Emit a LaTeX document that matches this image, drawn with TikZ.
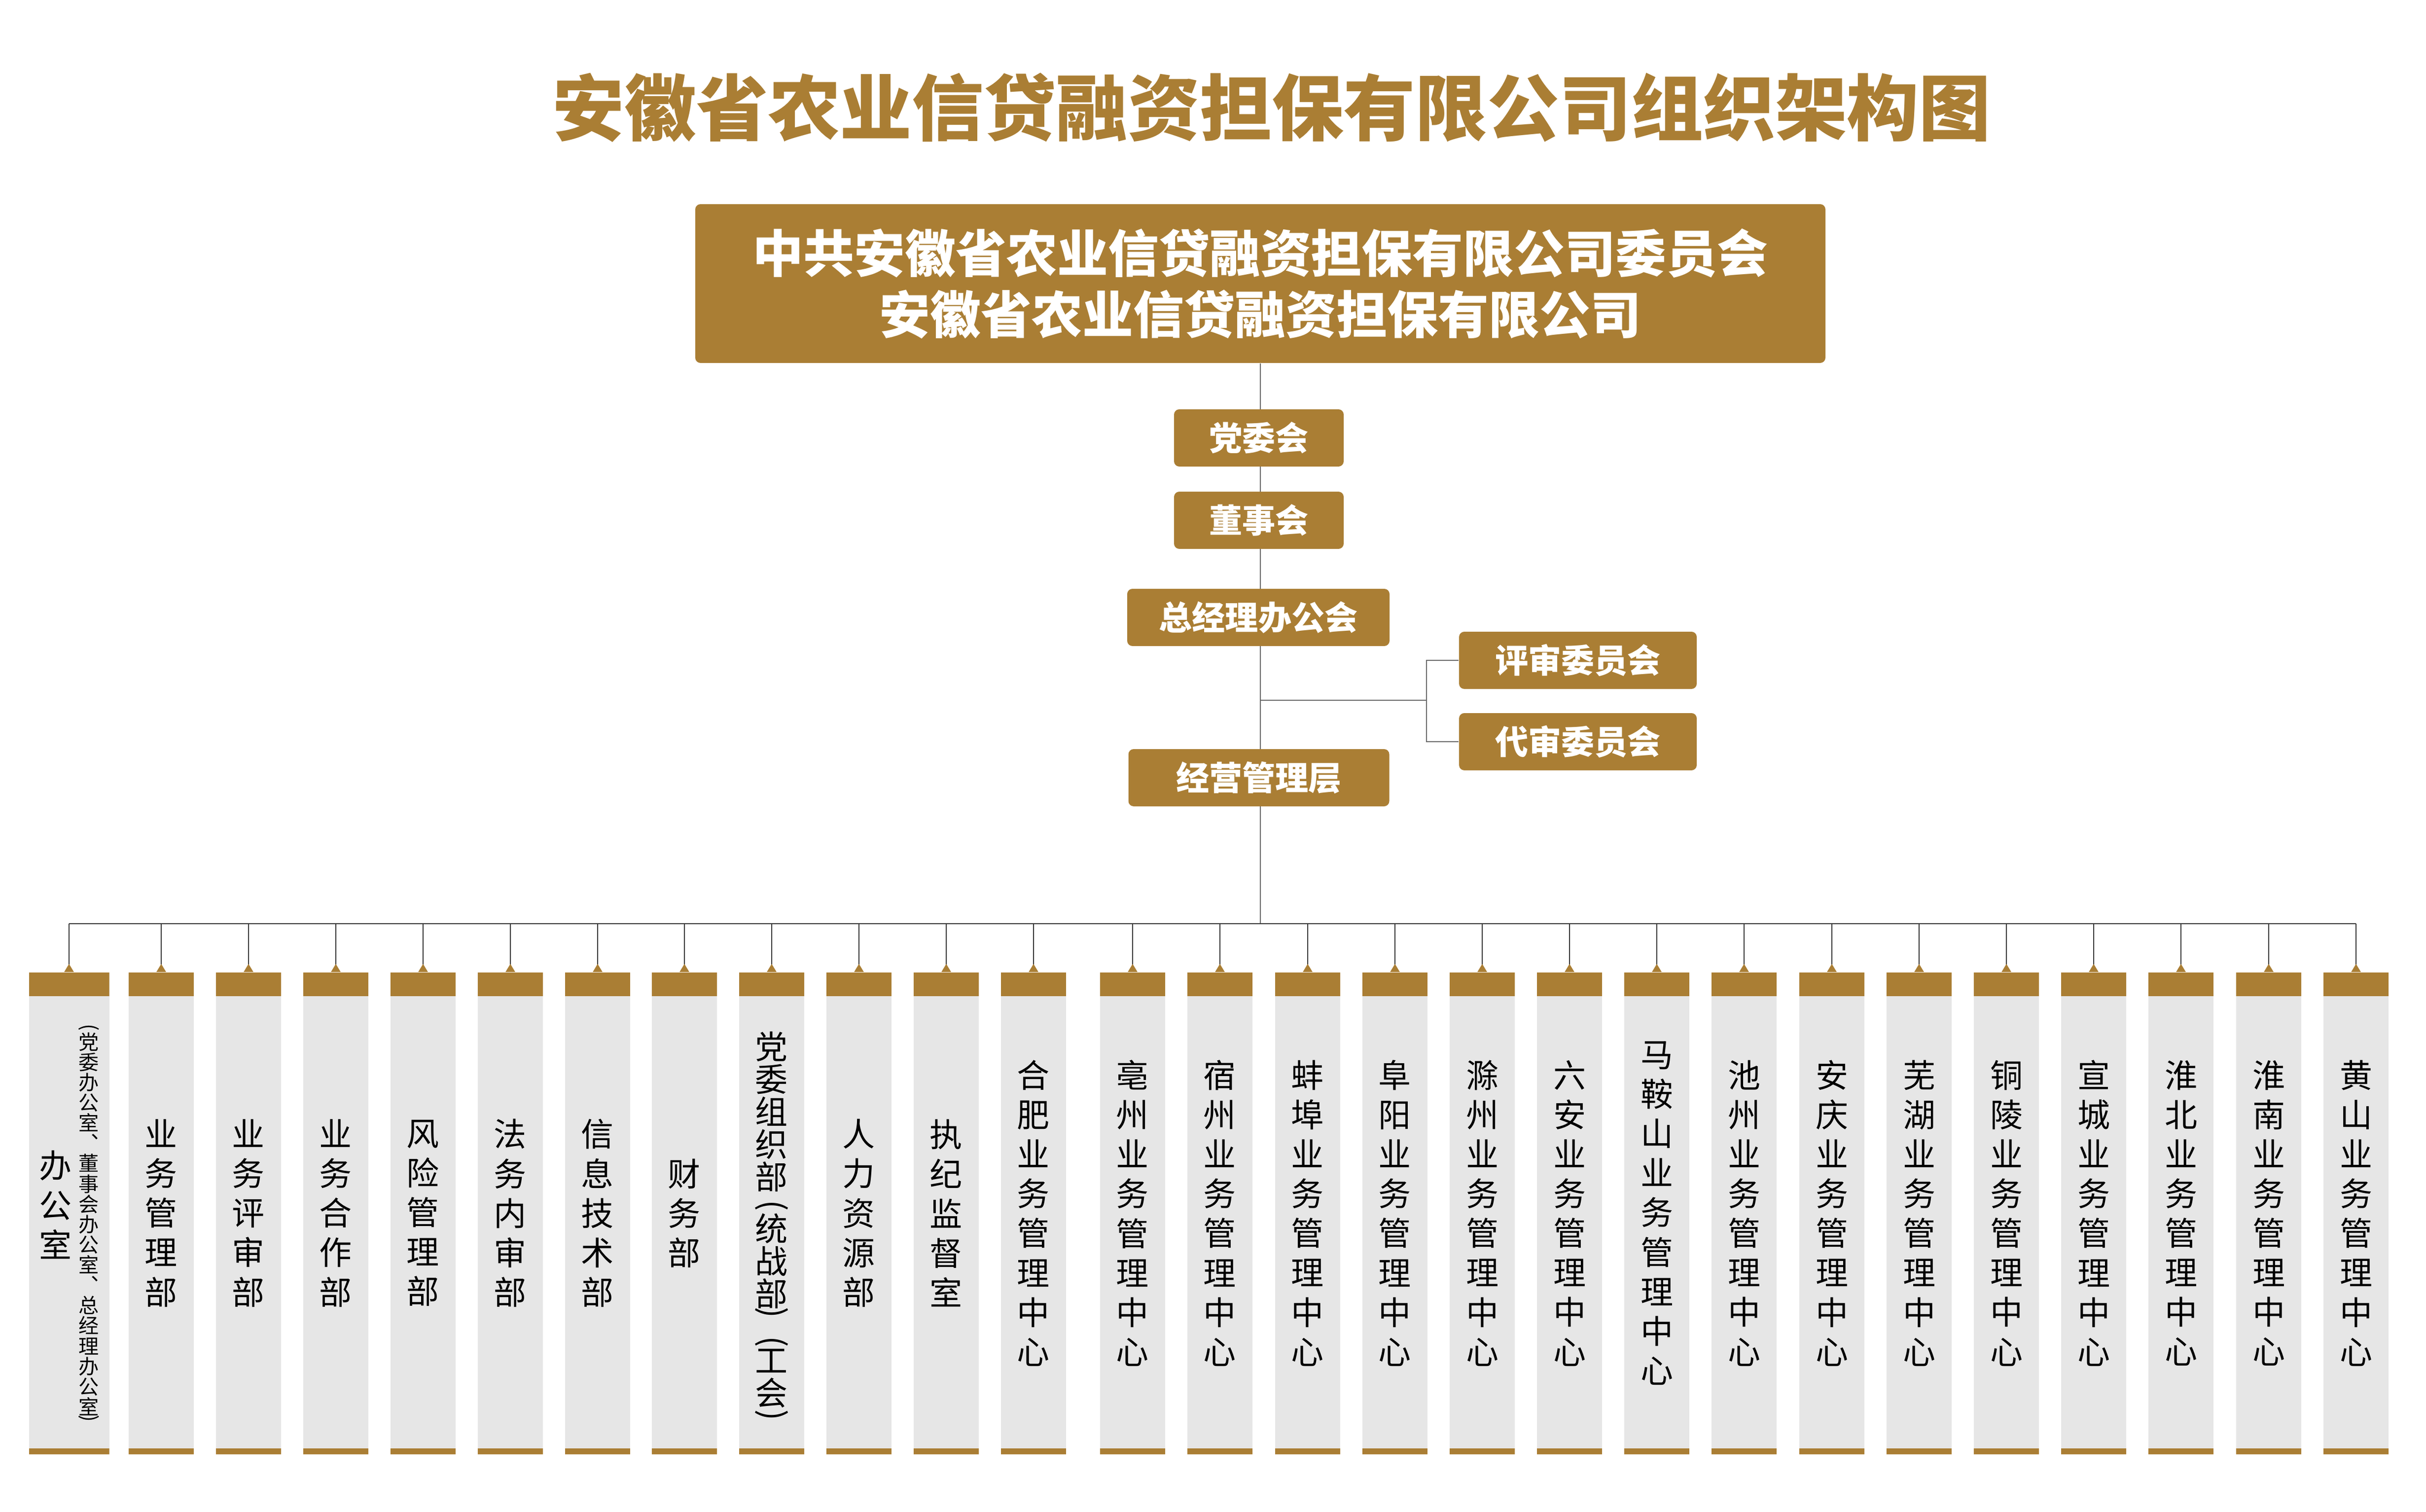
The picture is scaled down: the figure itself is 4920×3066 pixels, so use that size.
\documentclass[tikz,border=0pt]{standalone}
\usepackage{fontspec}
\setmainfont{Noto Sans CJK SC}
\usepackage{graphicx}
\usetikzlibrary{arrows.meta,backgrounds}
\definecolor{capgold}{RGB}{170,126,52}
\definecolor{scrollgrey}{RGB}{230,230,230}
\newcommand{\vlparen}{\rotatebox[origin=c]{-90}{(}}
\newcommand{\vrparen}{\rotatebox[origin=c]{-90}{)}}
\begin{document}
\begin{tikzpicture}[x=0.1mm, y=-0.1mm,
  orgbox/.style={fill=capgold, rounded corners=3pt, text=white, inner sep=0pt,
    minimum height=11.6mm, font=\fontsize{19.1pt}{23pt}\selectfont\bfseries},
  scroll/.style={fill=scrollgrey, minimum width=13.2mm, minimum height=97.7mm,
    inner sep=0pt, align=center, font=\fontsize{18.8pt}{22.8pt}\selectfont,
    path picture={
      \fill[capgold] (path picture bounding box.north west) rectangle ([yshift=-4.8mm]path picture bounding box.north east);
      \fill[capgold] (path picture bounding box.south west) rectangle ([yshift=1.2mm]path picture bounding box.south east);}},
  vlabel/.style={align=center, inner sep=0pt},
  stem/.style={draw=black!60, line width=0.5pt},
  busline/.style={draw=black!80, line width=0.6pt},
  drop/.style={draw=black!80, line width=0.6pt,
    -{Triangle[reversed, width=5.4pt, length=4.6pt, color=capgold, fill=capgold]}}
]
\useasboundingbox (0,0) rectangle (4920,3066);

% title and top
\node[text=capgold, font=\fontsize{41.5pt}{48pt}\selectfont\bfseries] (title) at (2579,218) {安徽省农业信贷融资担保有限公司组织架构图};
\node[orgbox, minimum width=229.2mm, minimum height=32.2mm, align=center,
  font=\fontsize{29.3pt}{35.3pt}\selectfont\bfseries] (party) at (2556,575)
  {中共安徽省农业信贷融资担保有限公司委员会\\安徽省农业信贷融资担保有限公司};

% boards
\node[orgbox, minimum width=34.4mm] (dwh) at (2553,888) {党委会};
\node[orgbox, minimum width=34.4mm] (dsh) at (2553,1055) {董事会};
\node[orgbox, minimum width=53.2mm] (zjl) at (2552,1252) {总经理办公会};
\node[orgbox, minimum width=48.2mm] (psw) at (3200,1339) {评审委员会};
\node[orgbox, minimum width=48.2mm] (dsw) at (3200,1504) {代审委员会};
\node[orgbox, minimum width=52.9mm] (jyc) at (2553,1577) {经营管理层};

\coordinate (fork) at (2556,1420);
\coordinate (forkr) at (2893,1420);
\coordinate (bus) at (2556,1873);

% departments
\node[scroll, minimum width=16.3mm] (dep1) at (140,2460) {};
\node[vlabel, font=\fontsize{18.8pt}{22.8pt}\selectfont] (dep1a) at (113,2443) {办\\公\\室};
\node[vlabel, font=\fontsize{11.7pt}{11.7pt}\selectfont] (dep1b) at (180,2483)
  {\vlparen\\[-2.6pt]党\\委\\办\\公\\室\\︑\\董\\事\\会\\办\\公\\室\\︑\\总\\经\\理\\办\\公\\室\\[-5.7pt]\vrparen};
\node[scroll] (dep2) at (327,2460) {业\\务\\管\\理\\部};
\node[scroll] (dep3) at (504,2460) {业\\务\\评\\审\\部};
\node[scroll] (dep4) at (681,2460) {业\\务\\合\\作\\部};
\node[scroll] (dep5) at (858,2460) {风\\险\\管\\理\\部};
\node[scroll] (dep6) at (1035,2460) {法\\务\\内\\审\\部};
\node[scroll] (dep7) at (1212,2460) {信\\息\\技\\术\\部};
\node[scroll] (dep8) at (1388,2460) {财\\务\\部};
\node[scroll] (dep9) at (1565,2460) {};
\node[vlabel, font=\fontsize{18.8pt}{18.8pt}\selectfont] (dep9a) at (1565,2491)
  {党\\委\\组\\织\\部\\[-3.4pt]\vlparen\\[-4.3pt]统\\战\\部\\[-9.4pt]\vrparen\\[-2pt]\vlparen\\[-6.8pt]工\\会\\[-7.1pt]\vrparen};
\node[scroll] (dep10) at (1742,2460) {人\\力\\资\\源\\部};
\node[scroll] (dep11) at (1919,2460) {执\\纪\\监\\督\\室};

% business centres
\node[scroll] (ctr1) at (2096,2460) {合\\肥\\业\\务\\管\\理\\中\\心};
\node[scroll] (ctr2) at (2297,2460) {亳\\州\\业\\务\\管\\理\\中\\心};
\node[scroll] (ctr3) at (2474,2460) {宿\\州\\业\\务\\管\\理\\中\\心};
\node[scroll] (ctr4) at (2652,2460) {蚌\\埠\\业\\务\\管\\理\\中\\心};
\node[scroll] (ctr5) at (2829,2460) {阜\\阳\\业\\务\\管\\理\\中\\心};
\node[scroll] (ctr6) at (3006,2460) {滁\\州\\业\\务\\管\\理\\中\\心};
\node[scroll] (ctr7) at (3183,2460) {六\\安\\业\\务\\管\\理\\中\\心};
\node[scroll] (ctr8) at (3360,2460) {马\\鞍\\山\\业\\务\\管\\理\\中\\心};
\node[scroll] (ctr9) at (3537,2460) {池\\州\\业\\务\\管\\理\\中\\心};
\node[scroll] (ctr10) at (3715,2460) {安\\庆\\业\\务\\管\\理\\中\\心};
\node[scroll] (ctr11) at (3892,2460) {芜\\湖\\业\\务\\管\\理\\中\\心};
\node[scroll] (ctr12) at (4069,2460) {铜\\陵\\业\\务\\管\\理\\中\\心};
\node[scroll] (ctr13) at (4246,2460) {宣\\城\\业\\务\\管\\理\\中\\心};
\node[scroll] (ctr14) at (4423,2460) {淮\\北\\业\\务\\管\\理\\中\\心};
\node[scroll] (ctr15) at (4601,2460) {淮\\南\\业\\务\\管\\理\\中\\心};
\node[scroll] (ctr16) at (4778,2460) {黄\\山\\业\\务\\管\\理\\中\\心};

\begin{scope}[on background layer]
\fill[white] (0,0) rectangle (4920,3066);
\draw[stem] (party.south) -- (bus);
\draw[stem] (fork) -- (forkr);
\draw[stem] (psw.west) -| (forkr) |- (dsw.west);
\draw[busline] (dep1.north |- bus) -- (ctr16.north |- bus);
\foreach \i in {1,...,11} \draw[drop] (dep\i.north |- bus) -- (dep\i.north);
\foreach \i in {1,...,16} \draw[drop] (ctr\i.north |- bus) -- (ctr\i.north);
\end{scope}
\end{tikzpicture}
\end{document}
